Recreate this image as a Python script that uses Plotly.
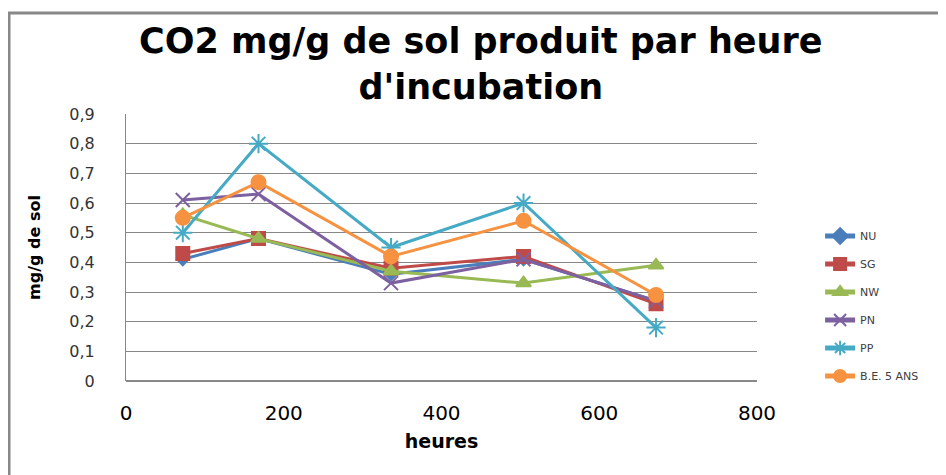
import plotly.graph_objects as go

hours = [72, 168, 336, 504, 672]
series_names = ["NU", "SG", "NW", "PN", "PP", "B.E. 5 ANS"]
nu = [0.41, 0.48, 0.36, 0.41, 0.27]
sg = [0.43, 0.48, 0.38, 0.42, 0.26]
nw = [0.56, 0.48, 0.37, 0.33, 0.39]
pn = [0.61, 0.63, 0.33, 0.41, 0.27]
pp = [0.50, 0.80, 0.45, 0.60, 0.18]
be5 = [0.55, 0.67, 0.42, 0.54, 0.29]
values = [nu, sg, nw, pn, pp, be5]

y_tick_vals = [0, 0.1, 0.2, 0.3, 0.4, 0.5, 0.6, 0.7, 0.8, 0.9]
y_tick_text = ["0", "0,1", "0,2", "0,3", "0,4", "0,5", "0,6", "0,7", "0,8", "0,9"]
x_tick_vals = [0, 200, 400, 600, 800]

colors = ["#4A7EBB", "#BE4B48", "#98B954", "#7D60A0", "#46AAC5", "#F69240"]
symbols = ["diamond", "square", "triangle-up", "x-thin-open", "asterisk-open", "circle"]
sizes = [9, 13, 13, 14, 16, 14]

fig = go.Figure()
for i, (name, vals) in enumerate(zip(series_names, values)):
    fig.add_trace(go.Scatter(
        x=hours, y=vals, name=name, mode="lines+markers",
        line=dict(color=colors[i], width=3),
        marker=dict(symbol=symbols[i], size=sizes[i], color=colors[i],
                    line=dict(color=colors[i], width=2)),
        legendgroup=name,
    ))

# page body adds an 8px offset, so figure coordinates = reference - 8
fig.update_layout(
    width=946, height=475,
    margin=dict(l=118, r=197, t=106, b=102, autoexpand=False),
    paper_bgcolor="white", plot_bgcolor="white",
    showlegend=True,
    legend=dict(x=1.1, y=0.5975, xanchor="left", yanchor="top",
                font=dict(family="DejaVu Sans", size=11, color="#404040"),
                tracegroupgap=9, bgcolor="rgba(0,0,0,0)", itemsizing="constant"),
    font=dict(family="DejaVu Sans"),
)
fig.add_annotation(text="CO2 mg/g de sol produit par heure<br>d'incubation",
                   xref="paper", yref="paper", x=0.5626, y=1.355,
                   xanchor="center", yanchor="top", showarrow=False,
                   font=dict(family="DejaVu Sans", size=35, color="black", weight="bold"))
fig.update_xaxes(range=[0, 800], tickvals=x_tick_vals, showgrid=False,
                 zeroline=False, showline=False, ticks="",
                 ticklabelstandoff=18, automargin=False,
                 tickfont=dict(family="DejaVu Sans", size=20, color="black"),
                 title=dict(text="heures", font=dict(family="DejaVu Sans", size=19, color="black", weight="bold"),
                            standoff=10))
fig.update_yaxes(range=[0, 0.9], tickvals=y_tick_vals, ticktext=y_tick_text, showgrid=True,
                 gridcolor="#878787", gridwidth=1, zeroline=True, zerolinecolor="#878787",
                 showline=True, linecolor="#878787", linewidth=1,
                 ticks="", ticklabelstandoff=27, automargin=False,
                 tickfont=dict(family="DejaVu Sans", size=16, color="#333333"),
                 title=dict(text="mg/g de sol", font=dict(family="DejaVu Sans", size=16, color="black", weight="bold"),
                            standoff=24))

fig.add_shape(type="rect", xref="paper", yref="paper",
              x0=-0.1854, x1=1.4, y0=-0.5, y1=1.3783,
              line=dict(color="#888888", width=3), fillcolor="rgba(0,0,0,0)", layer="below")

fig.write_html("out.html")
